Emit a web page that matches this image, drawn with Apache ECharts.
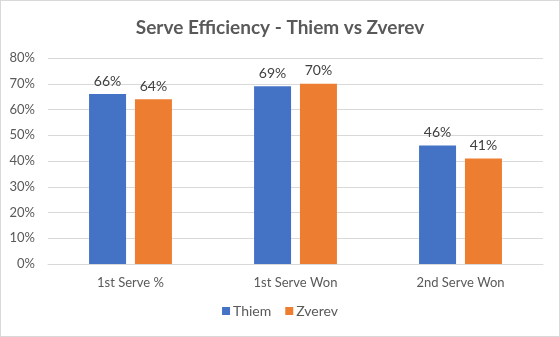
<!DOCTYPE html>
<html>
<head>
<meta charset="utf-8">
<script src="https://cdn.jsdelivr.net/npm/echarts@6/dist/echarts.min.js"></script>
<style>
  html, body { margin: 0; padding: 0; background: #fff; }
  #chart { width: 560px; height: 337px; box-sizing: border-box; border: 1px solid #d9d9d9; }
</style>
</head>
<body>
<div id="chart"></div>
<script>
// Serve statistics (percent)
const categories = ['1st Serve %', '1st Serve Won', '2nd Serve Won'];
const thiem = [66, 69, 46];
const zverev = [64, 70, 41];
const yTicks = [0, 10, 20, 30, 40, 50, 60, 70, 80];

const font = 'Lato, "Open Sans", sans-serif';
const chart = echarts.init(document.getElementById('chart'), null, { renderer: 'canvas' });

const labelStyle = {
  show: true,
  position: 'top',
  distance: 6,
  formatter: p => p.value + '%',
  color: '#404040',
  fontFamily: font,
  fontSize: 14
};

chart.setOption({
  animation: false,
  backgroundColor: '#fff',
  title: {
    text: 'Serve Efficiency - Thiem vs Zverev',
    left: 'center',
    top: 12,
    textStyle: { fontFamily: font, fontSize: 19, fontWeight: 'bold', color: '#595959' }
  },
  legend: {
    bottom: 13,
    left: 'center',
    itemWidth: 8,
    itemHeight: 8,
    itemGap: 14,
    icon: 'rect',
    textStyle: { fontFamily: font, fontSize: 14, color: '#595959', padding: [0, 0, 0, -2] },
    data: ['Thiem', 'Zverev']
  },
  grid: { left: 47, right: 16, top: 57, bottom: 72 },
  xAxis: {
    type: 'category',
    data: categories,
    axisLine: { show: true, lineStyle: { color: '#d9d9d9' } },
    axisTick: { show: false },
    axisLabel: { fontFamily: font, fontSize: 13, color: '#595959', margin: 12 }
  },
  yAxis: {
    type: 'value',
    min: yTicks[0],
    max: yTicks[yTicks.length - 1],
    interval: 10,
    axisLine: { show: false },
    axisTick: { show: false },
    splitLine: { lineStyle: { color: '#d9d9d9' } },
    axisLabel: { formatter: v => v + '%', fontFamily: font, fontSize: 13, color: '#595959', margin: 13 }
  },
  series: [
    {
      name: 'Thiem', type: 'bar', data: thiem, barWidth: 37, barGap: '24%',
      itemStyle: { color: '#4472C4' }, label: labelStyle
    },
    {
      name: 'Zverev', type: 'bar', data: zverev, barWidth: 37,
      itemStyle: { color: '#ED7D31' }, label: labelStyle
    }
  ]
});
</script>
</body>
</html>
